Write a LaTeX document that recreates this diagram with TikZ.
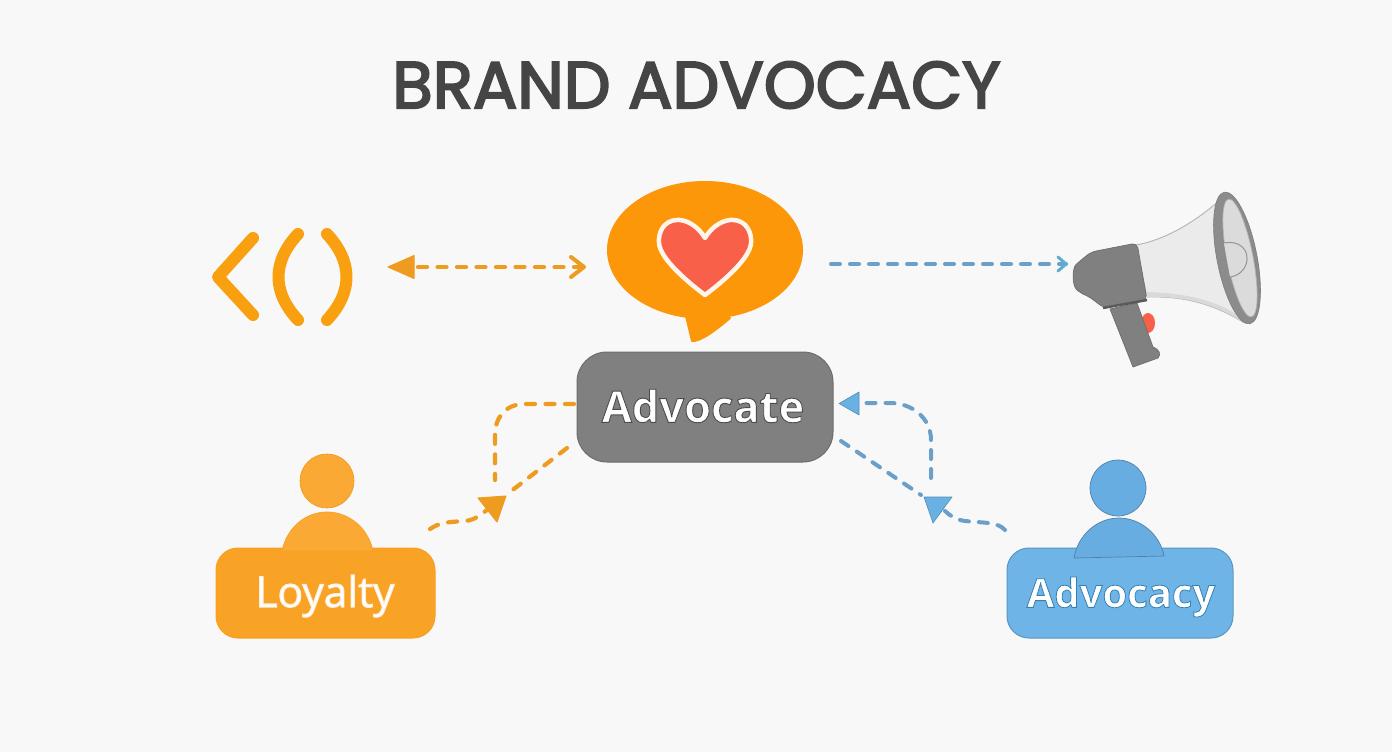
\documentclass[tikz,border=0pt]{standalone}
\usepackage{fontspec}
\usetikzlibrary{arrows.meta,calc}
\setmainfont{Poppins}
\newfontfamily\titlefont{Poppins}
\newfontfamily\labelfont{Open Sans}
\newcommand{\strokedtext}[3]{\special{pdf:code q #1 RG 2 Tr #2 w}#3\special{pdf:code Q 0 Tr}}
\definecolor{bgc}{HTML}{F8F8F8}
\definecolor{org}{HTML}{F9A010}
\definecolor{orgb}{HTML}{F9A326}
\definecolor{orgh}{HTML}{FBA935}
\definecolor{orgd}{HTML}{EE9C20}
\definecolor{bub}{HTML}{FB9708}
\definecolor{blu}{HTML}{6FB4E7}
\definecolor{bluh}{HTML}{68ADE2}
\definecolor{blud}{HTML}{6C9FC8}
\definecolor{bluf}{HTML}{69B0E3}
\definecolor{gr}{HTML}{808080}
\definecolor{heartc}{HTML}{F8604A}
\tikzset{
  x=1pt,y=-1pt,
  iconline/.style={draw=org,line width=12pt,line cap=round,line join=round},
  dashorg/.style={draw=orgd,line width=4.2pt,dash pattern=on 9pt off 10.5pt,line cap=round},
  dashblu/.style={draw=blud,line width=4pt,dash pattern=on 9pt off 10pt,line cap=round},
  headorg/.style={fill=orgd,draw=orgd,line width=1pt,line join=round},
  headblu/.style={fill=bluf,draw=bluf!80!black,line width=.6pt,line join=round},
  boxlabel/.style={text=white,inner sep=0pt},
  personbox/.style={rounded corners=22pt,line width=1pt},
}
\begin{document}
\begin{tikzpicture}
\useasboundingbox[fill=bgc] (0,0) rectangle (1392,752);
% title
\node[inner sep=0pt,text=black!73,font=\titlefont\fontsize{66}{66}\selectfont] (title) at (696.5,85) {\strokedtext{0.27 0.27 0.27}{2}{BRAND ADVOCACY}};

% left icon
\draw[iconline] (253,238) -- (218,277) -- (253,315);
\draw[iconline] (298,234) .. controls (272,262) and (272,292) .. (298,320);
\draw[iconline] (327,234) .. controls (353,262) and (353,292) .. (327,320);

% anchors
\coordinate (leftend) at (418,267);
\coordinate (bubL) at (584,267);
\coordinate (bubR) at (831,264);
\coordinate (mega) at (1066,264);

% bubble
\draw[fill=bub,draw=bub,line width=2pt,line join=round] (686,316) -- (692,341) .. controls (700,342) and (716,330) .. (730,318) -- cycle;
\fill[bub] (705,250) ellipse [x radius=98,y radius=69];
\node[inner sep=0pt,minimum size=0pt] (bubble) at (705,250) {};
% heart
\draw[fill=heartc,draw=white!92!orange,line width=4.5pt,line join=round]
  (705,238) .. controls (712,226) and (724,219) .. (734,220)
  .. controls (746,221) and (752,232) .. (751,243)
  .. controls (750,258) and (725,280) .. (705,295)
  .. controls (685,280) and (660,258) .. (659,243)
  .. controls (658,232) and (664,221) .. (676,220)
  .. controls (686,219) and (698,226) .. (705,238) -- cycle;

% Advocate
\node[draw=gr!85!black,line width=1pt,fill=gr,rounded corners=30pt,minimum width=256pt,minimum height=110pt,inner sep=0pt] (advbox) at (705,407) {};
\node[boxlabel,font=\labelfont\bfseries\fontsize{43.5}{43.5}\selectfont] (advtxt) at (703,406) {\strokedtext{0.3 0.3 0.3}{0.9}{Advocate}};

% Loyalty person
\node[draw=orgb!90!orange,fill=orgb,personbox,minimum width=219pt,minimum height=90pt,inner sep=0pt] (loybox) at (325.5,593) {};
\node[circle,fill=orgh,draw=orgd,line width=.7pt,minimum size=54pt,inner sep=0pt] (loyhead) at (327,481) {};
\draw[fill=orgh,draw=orgb!90!orange,line width=.7pt] (282,551) .. controls (287,527) and (306,512) .. (327,512) .. controls (348,512) and (368,527) .. (373,551) -- cycle;
\node[boxlabel,font=\labelfont\fontsize{42.5}{42.5}\selectfont] (loytxt) at (325,596) {\strokedtext{0.99 0.93 0.85}{1}{Loyalty}};

% Advocacy person
\node[draw=bluf!85!black,fill=blu,personbox,minimum width=226pt,minimum height=90pt,inner sep=0pt] (acybox) at (1120,593) {};
\node[circle,fill=bluh,draw=bluh!75!black,line width=.7pt,minimum size=56pt,inner sep=0pt] (acyhead) at (1118,488) {};
\draw[fill=bluh,draw=bluh!75!black,line width=.7pt] (1074,558) .. controls (1078,534) and (1098,518) .. (1119,518) .. controls (1140,518) and (1160,534) .. (1164,556) -- cycle;
\node[boxlabel,font=\labelfont\bfseries\fontsize{40}{40}\selectfont] (acytxt) at (1121,597) {\strokedtext{0.2 0.5 0.7}{0.8}{Advocacy}};

% megaphone
\begin{scope}
\fill[heartc] (1148,323) ellipse [x radius=7,y radius=10];
\draw[fill=gr,draw=gr!85!black,line width=.7pt,line join=round] (1110,309) -- (1137,303) -- (1153,347) .. controls (1160,350) and (1161,354) .. (1158,358) -- (1133,367) -- cycle;
\draw[fill=black!8,draw=black!28,line width=1pt] (1136,245) .. controls (1165,240) and (1195,222) .. (1220,200) -- (1243,322) .. controls (1210,302) and (1180,296) .. (1147,297) -- cycle;
\fill[black!15] (1147,297) .. controls (1180,296) and (1210,302) .. (1240,320) -- (1236,314) .. controls (1210,298) and (1180,293) .. (1146,292) -- cycle;
\draw[fill=gr,draw=gr!85!black,line width=.7pt,rounded corners=5pt] (1091,252) -- (1137,243) -- (1147,300) -- (1104,308) -- (1088,296) -- (1080,293) .. controls (1072,285) and (1072,268) .. (1080,261) -- cycle;
\draw[gr!70!black,line width=2.5pt] (1103,308) -- (1147,300);
\draw[fill=black!45,draw=black!50,line width=.7pt,rotate around={11:(1237,258)}] (1237,258) ellipse [x radius=20,y radius=67];
\draw[fill=black!14,draw=black!30,line width=.7pt,rotate around={11:(1240,258)}] (1240,258) ellipse [x radius=13,y radius=60];
\draw[black!42,fill=black!14,line width=1pt] (1224,243) .. controls (1240,240) and (1248,250) .. (1247,260) .. controls (1246,270) and (1238,276) .. (1230,277);
\end{scope}

% connectors
\draw[headorg] (388,267) -- (414,255.5) -- (414,278.5) -- cycle;
\draw[dashorg] (leftend) -- (bubL);
\draw[orgd,line width=4pt,line cap=round,line join=round] (571,257) -- (584,267) -- (571,277);

\draw[dashblu] (bubR) -- (mega);
\draw[blud!85!cyan,line width=3pt,line cap=round,line join=round] (1058,257) -- (1066,264) -- (1058,271);

% left lower
\coordinate (o1) at (574,404);
\coordinate (o2) at (495,480);
\coordinate (o3) at (567,448);
\coordinate (o4) at (510,492);
\coordinate (o5) at (430,529);
\coordinate (o6) at (487,510);
\draw[dashorg] (o1) -- (525,404) .. controls (505,404) and (495,418) .. (495,435) -- (o2);
\draw[dashorg] (o3) -- (o4);
\draw[dashorg] (o5) .. controls (440,522) and (450,522) .. (465,521) .. controls (475,520) and (480,515) .. (o6);
\draw[headorg] (506,496) -- (478,498) -- (497,522) -- cycle;

% right lower
\coordinate (b1) at (931,478);
\coordinate (b2) at (862,403);
\coordinate (b3) at (841,441);
\coordinate (b4) at (921,495);
\coordinate (b5) at (1005,530);
\coordinate (b6) at (945,511);
\draw[dashblu] (b1) -- (931,440) .. controls (931,418) and (912,403) .. (890,403) -- (b2);
\draw[dashblu] (b3) -- (b4);
\draw[dashblu] (b5) .. controls (998,522) and (985,523) .. (965,521) .. controls (957,520) and (950,516) .. (b6);
\draw[headblu] (839,403.5) -- (859,392) -- (859,415) -- cycle;
\draw[headblu] (924,497) -- (952,497) -- (933,523) -- cycle;
\end{tikzpicture}
\end{document}
